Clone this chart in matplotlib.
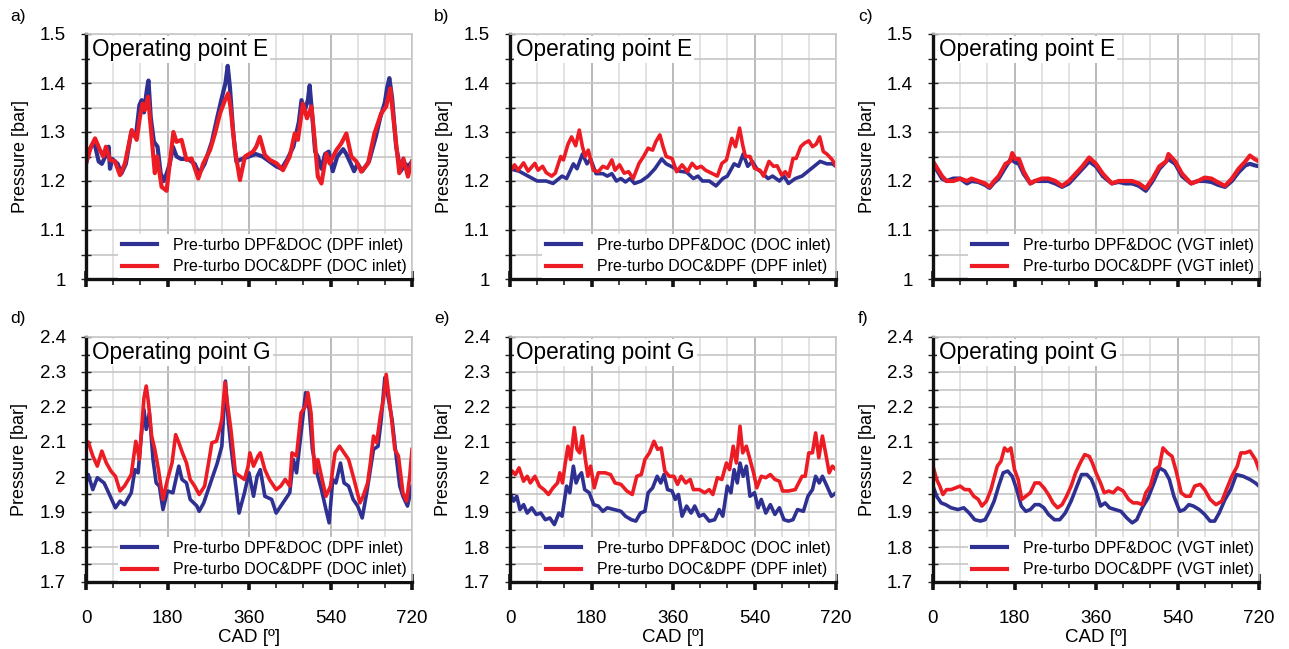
import matplotlib
matplotlib.use("Agg")
import matplotlib.pyplot as plt
from matplotlib.ticker import MultipleLocator, FuncFormatter

plt.rcParams['font.family'] = ['Liberation Sans', 'DejaVu Sans']

BLUE = '#2e3192'
RED = '#ed1c24'

# ---- operating point E, pre-turbo DPF&DOC vs DOC&DPF at the DPF/DOC inlets ----
a_blue_x = [0, 8, 18, 28, 35, 45, 50, 53, 58, 70, 78, 88, 100, 110, 118, 123, 128, 135, 138, 143,
            150, 158, 165, 172, 178, 185, 192, 200, 210, 225, 240, 250, 262, 278, 290, 300, 308, 313,
            318, 325, 332, 345, 360, 375, 390, 405, 420, 432, 445, 458, 470, 476, 482, 490, 494, 500,
            506, 512, 520, 528, 536, 545, 555, 568, 575, 585, 592, 600, 610, 625, 640, 650, 660, 665,
            670, 676, 685, 695, 705, 712, 720]
a_blue_y = [1.235, 1.265, 1.28, 1.24, 1.235, 1.255, 1.27, 1.225, 1.245, 1.235, 1.215, 1.235, 1.3, 1.29,
            1.355, 1.365, 1.34, 1.39, 1.405, 1.33, 1.28, 1.27, 1.215, 1.2, 1.215, 1.235, 1.27, 1.25,
            1.245, 1.245, 1.235, 1.215, 1.235, 1.28, 1.33, 1.37, 1.4, 1.435, 1.39, 1.3, 1.24, 1.245,
            1.25, 1.255, 1.25, 1.24, 1.23, 1.225, 1.245, 1.27, 1.32, 1.365, 1.34, 1.365, 1.395, 1.33,
            1.26, 1.25, 1.225, 1.255, 1.26, 1.22, 1.25, 1.265, 1.255, 1.235, 1.22, 1.235, 1.22, 1.24,
            1.29, 1.33, 1.36, 1.39, 1.41, 1.37, 1.27, 1.22, 1.235, 1.23, 1.24]
a_red_x = [0, 11, 20, 31, 38, 44, 53, 64, 75, 86, 101, 112, 119, 125, 130, 137, 143, 152, 157, 167,
           178, 193, 200, 211, 222, 233, 248, 259, 274, 285, 296, 307, 314, 319, 329, 340, 351, 369,
           376, 384, 395, 406, 421, 435, 450, 461, 468, 479, 488, 498, 505, 512, 520, 531, 538, 553,
           564, 575, 586, 597, 608, 623, 637, 652, 663, 672, 681, 692, 701, 711, 720]
a_red_y = [1.236, 1.27, 1.287, 1.263, 1.25, 1.27, 1.243, 1.24, 1.212, 1.236, 1.304, 1.284, 1.33, 1.358,
           1.345, 1.372, 1.31, 1.216, 1.25, 1.188, 1.18, 1.3, 1.28, 1.284, 1.243, 1.246, 1.205, 1.236,
           1.263, 1.297, 1.338, 1.365, 1.379, 1.352, 1.263, 1.202, 1.25, 1.26, 1.27, 1.29, 1.253, 1.243,
           1.236, 1.222, 1.25, 1.297, 1.284, 1.358, 1.328, 1.352, 1.284, 1.209, 1.195, 1.256, 1.236,
           1.263, 1.277, 1.297, 1.25, 1.24, 1.219, 1.236, 1.297, 1.338, 1.352, 1.389, 1.31, 1.216,
           1.246, 1.209, 1.24]

b_blue_x = [0, 20, 40, 60, 80, 95, 115, 125, 140, 148, 160, 170, 178, 190, 205, 215, 225, 235, 245,
            255, 265, 275, 290, 305, 320, 335, 345, 360, 375, 390, 405, 415, 425, 440, 455, 470, 480,
            495, 505, 515, 525, 535, 545, 555, 570, 580, 595, 605, 615, 630, 645, 665, 685, 700, 712, 720]
b_blue_y = [1.225, 1.22, 1.21, 1.2, 1.2, 1.195, 1.21, 1.205, 1.235, 1.225, 1.255, 1.235, 1.245, 1.215,
            1.215, 1.21, 1.215, 1.2, 1.205, 1.198, 1.205, 1.195, 1.2, 1.21, 1.225, 1.245, 1.235, 1.228,
            1.22, 1.218, 1.205, 1.21, 1.2, 1.2, 1.19, 1.205, 1.21, 1.235, 1.23, 1.255, 1.23, 1.24,
            1.225, 1.218, 1.205, 1.21, 1.2, 1.21, 1.195, 1.205, 1.21, 1.225, 1.24, 1.235, 1.235, 1.23]
b_red_x = [0, 10, 18, 30, 40, 55, 62, 72, 80, 92, 100, 112, 118, 128, 136, 145, 153, 160, 166, 173,
           184, 195, 205, 215, 225, 232, 242, 252, 262, 272, 285, 295, 305, 315, 322, 331, 338, 345,
           358, 368, 380, 392, 402, 412, 422, 432, 445, 458, 468, 478, 490, 498, 507, 514, 520, 530,
           540, 552, 560, 572, 582, 590, 600, 608, 616, 625, 632, 642, 650, 660, 668, 676, 684, 692,
           700, 712, 720]
b_red_y = [1.219, 1.233, 1.222, 1.237, 1.22, 1.236, 1.222, 1.23, 1.217, 1.21, 1.216, 1.25, 1.243,
           1.275, 1.29, 1.272, 1.304, 1.27, 1.25, 1.263, 1.222, 1.219, 1.23, 1.226, 1.243, 1.222,
           1.233, 1.216, 1.219, 1.205, 1.236, 1.25, 1.267, 1.263, 1.28, 1.294, 1.27, 1.25, 1.246,
           1.219, 1.233, 1.219, 1.236, 1.226, 1.23, 1.222, 1.216, 1.21, 1.236, 1.243, 1.287, 1.27,
           1.308, 1.273, 1.25, 1.25, 1.226, 1.222, 1.21, 1.24, 1.23, 1.231, 1.212, 1.219, 1.209, 1.246,
           1.246, 1.27, 1.277, 1.282, 1.27, 1.275, 1.29, 1.26, 1.255, 1.243, 1.23]

c_blue_x = [0, 10, 20, 30, 45, 60, 75, 85, 100, 115, 125, 135, 145, 160, 172, 182, 190, 200, 215,
            225, 240, 255, 270, 285, 300, 315, 330, 345, 360, 375, 395, 410, 425, 440, 455, 470, 485,
            500, 520, 535, 550, 570, 585, 600, 615, 630, 645, 660, 675, 690, 700, 710, 720]
c_blue_y = [1.235, 1.22, 1.205, 1.2, 1.205, 1.205, 1.195, 1.2, 1.198, 1.192, 1.186, 1.197, 1.205,
            1.228, 1.245, 1.238, 1.235, 1.215, 1.195, 1.2, 1.2, 1.2, 1.195, 1.188, 1.195, 1.21, 1.225,
            1.24, 1.23, 1.21, 1.195, 1.198, 1.195, 1.195, 1.19, 1.18, 1.2, 1.225, 1.245, 1.235, 1.21,
            1.195, 1.2, 1.2, 1.198, 1.192, 1.188, 1.2, 1.218, 1.232, 1.235, 1.232, 1.23]
c_red_x = [0, 10, 20, 30, 45, 60, 75, 85, 100, 115, 125, 135, 145, 160, 170, 175, 182, 190, 200, 215,
           225, 240, 255, 270, 285, 300, 315, 330, 345, 360, 375, 395, 410, 425, 440, 455, 470, 485,
           500, 515, 520, 535, 550, 570, 585, 600, 615, 630, 645, 660, 675, 690, 700, 710, 720]
c_red_y = [1.24, 1.225, 1.21, 1.2, 1.2, 1.205, 1.2, 1.205, 1.2, 1.195, 1.188, 1.2, 1.21, 1.235, 1.24,
           1.257, 1.245, 1.245, 1.22, 1.195, 1.2, 1.205, 1.205, 1.2, 1.19, 1.2, 1.215, 1.23, 1.248,
           1.235, 1.215, 1.195, 1.2, 1.2, 1.2, 1.195, 1.185, 1.205, 1.23, 1.24, 1.255, 1.24, 1.215,
           1.195, 1.2, 1.207, 1.205, 1.197, 1.19, 1.205, 1.225, 1.24, 1.252, 1.245, 1.24]

# ---- operating point G ----
d_blue_x = [0, 5, 15, 25, 40, 50, 65, 75, 85, 100, 108, 115, 122, 128, 133, 140, 148, 155, 162, 170,
            180, 192, 205, 212, 222, 230, 245, 250, 260, 275, 290, 300, 308, 314, 320, 330, 338, 350,
            360, 370, 378, 385, 395, 410, 420, 435, 450, 458, 465, 475, 485, 493, 500, 510, 520, 530,
            537, 545, 552, 562, 570, 580, 590, 600, 610, 620, 635, 645, 652, 660, 668, 676, 685, 693,
            700, 710, 720]
d_blue_y = [1.983, 2.007, 1.964, 1.998, 1.983, 1.955, 1.912, 1.931, 1.921, 1.955, 2.021, 2.012, 2.117,
            2.193, 2.136, 2.183, 2.05, 1.983, 1.974, 1.907, 1.96, 1.955, 2.031, 1.993, 1.983, 1.936,
            1.917, 1.902, 1.926, 1.983, 2.04, 2.088, 2.274, 2.164, 2.088, 1.983, 1.897, 1.955, 2.012,
            1.945, 2.002, 2.021, 1.945, 1.936, 1.897, 1.926, 1.955, 2.05, 2.012, 2.126, 2.241, 2.193,
            2.079, 2.012, 1.964, 1.907, 1.869, 1.993, 1.983, 2.04, 1.983, 1.974, 1.936, 1.917, 1.883,
            1.955, 2.079, 2.088, 2.164, 2.284, 2.222, 2.164, 2.06, 1.974, 1.945, 1.917, 1.974]
d_red_x = [0, 5, 15, 25, 35, 45, 55, 65, 75, 85, 100, 110, 118, 128, 133, 138, 145, 152, 160, 170,
           180, 190, 198, 205, 213, 222, 230, 240, 250, 262, 272, 278, 288, 295, 300, 307, 313, 320,
           330, 340, 350, 358, 362, 370, 380, 385, 395, 405, 420, 430, 440, 450, 455, 465, 475, 485,
           490, 497, 505, 512, 520, 530, 540, 550, 560, 570, 580, 592, 605, 612, 622, 628, 635, 642,
           650, 657, 663, 668, 675, 682, 690, 700, 708, 715, 720]
d_red_y = [2.093, 2.1, 2.06, 2.031, 2.074, 2.04, 2.017, 2.002, 1.96, 1.974, 2.007, 2.102, 2.05, 2.226,
           2.26, 2.212, 2.117, 2.079, 2.021, 1.936, 1.993, 2.04, 2.121, 2.098, 2.069, 2.04, 1.993,
           1.974, 1.95, 1.974, 2.05, 2.098, 2.102, 2.136, 2.164, 2.27, 2.203, 2.136, 2.012, 2.002,
           1.993, 2.031, 2.069, 2.031, 2.06, 2.069, 2.021, 1.993, 1.964, 1.974, 1.993, 1.974, 2.069,
           2.06, 2.183, 2.203, 2.241, 2.183, 2.012, 2.05, 2.002, 1.945, 1.974, 2.069, 2.088, 2.069,
           2.05, 1.993, 1.926, 1.945, 1.983, 2.04, 2.117, 2.098, 2.174, 2.222, 2.293, 2.241, 2.164,
           2.079, 2.06, 1.955, 1.931, 2.002, 2.079]

e_blue_x = [0, 8, 15, 22, 30, 38, 48, 58, 68, 78, 88, 98, 108, 115, 125, 132, 140, 146, 152, 158,
            165, 175, 185, 195, 205, 215, 230, 245, 255, 268, 278, 288, 298, 305, 315, 325, 333, 340,
            348, 358, 365, 372, 380, 390, 400, 408, 418, 428, 440, 452, 462, 470, 480, 488, 495, 502,
            508, 515, 522, 530, 540, 548, 555, 565, 575, 585, 595, 605, 615, 625, 635, 648, 658, 668,
            675, 683, 690, 700, 710, 720]
e_blue_y = [1.955, 1.931, 1.945, 1.907, 1.921, 1.897, 1.912, 1.893, 1.897, 1.878, 1.883, 1.864, 1.897,
            1.888, 1.974, 1.955, 2.031, 1.983, 2.002, 2.012, 1.964, 1.955, 1.921, 1.917, 1.902, 1.912,
            1.907, 1.902, 1.888, 1.878, 1.874, 1.897, 1.902, 1.955, 1.969, 2.002, 1.983, 2.007, 1.964,
            1.96, 1.936, 1.95, 1.888, 1.917, 1.897, 1.917, 1.888, 1.893, 1.874, 1.878, 1.907, 1.888,
            1.974, 1.955, 2.021, 1.983, 2.04, 2.002, 2.031, 1.945, 1.955, 1.912, 1.936, 1.897, 1.921,
            1.893, 1.912, 1.878, 1.874, 1.878, 1.907, 1.902, 1.945, 1.964, 2.002, 1.983, 2.002, 1.974,
            1.945, 1.955]
e_red_x = [0, 5, 12, 20, 30, 38, 45, 55, 65, 75, 85, 95, 105, 110, 116, 122, 128, 134, 142, 148, 154,
           160, 166, 172, 178, 186, 195, 210, 222, 232, 245, 258, 270, 280, 290, 298, 308, 318, 326,
           334, 342, 352, 362, 370, 378, 388, 398, 405, 418, 430, 440, 448, 458, 468, 478, 485, 493,
           500, 508, 514, 522, 530, 538, 545, 555, 565, 575, 585, 595, 602, 615, 630, 645, 652, 660,
           668, 675, 682, 690, 697, 705, 712, 720]
e_red_y = [2.002, 2.017, 2.007, 2.026, 1.988, 2.002, 1.983, 2.002, 1.974, 1.964, 1.95, 1.969, 1.983,
           2.012, 1.983, 2.04, 2.088, 2.05, 2.141, 2.079, 2.069, 2.117, 2.055, 2.002, 2.031, 1.969,
           2.012, 2.012, 2.007, 1.983, 1.979, 1.96, 1.95, 2.002, 2.007, 2.05, 2.069, 2.102, 2.079,
           2.083, 2.017, 2.002, 2.002, 1.979, 2.002, 1.983, 1.993, 1.964, 1.964, 1.955, 1.964, 1.95,
           1.998, 1.993, 2.04, 2.021, 2.088, 2.04, 2.145, 2.069, 2.088, 2.05, 2.012, 1.969, 2.002,
           1.998, 2.007, 1.993, 1.988, 1.96, 1.96, 1.964, 2.002, 2.002, 2.069, 2.069, 2.126, 2.055,
           2.117, 2.069, 2.012, 2.031, 2.021]

f_blue_x = [0, 8, 18, 28, 40, 55, 68, 80, 92, 105, 115, 125, 135, 145, 155, 165, 175, 185, 195, 205,
            215, 225, 235, 245, 255, 268, 280, 292, 305, 318, 328, 340, 350, 360, 370, 380, 390, 402,
            415, 428, 440, 450, 462, 475, 488, 500, 512, 522, 532, 545, 555, 565, 575, 588, 600, 612,
            622, 632, 645, 658, 670, 685, 700, 712, 720]
f_blue_y = [1.974, 1.945, 1.926, 1.921, 1.912, 1.907, 1.912, 1.897, 1.878, 1.874, 1.878, 1.902, 1.931,
            1.974, 2.012, 2.017, 2.002, 1.964, 1.917, 1.902, 1.907, 1.921, 1.921, 1.912, 1.893, 1.878,
            1.878, 1.897, 1.931, 1.974, 2.007, 2.007, 1.993, 1.96, 1.917, 1.926, 1.912, 1.907, 1.902,
            1.883, 1.869, 1.878, 1.912, 1.94, 1.983, 2.026, 2.017, 1.993, 1.945, 1.902, 1.907, 1.921,
            1.917, 1.907, 1.893, 1.874, 1.874, 1.897, 1.936, 1.965, 2.007, 2.002, 1.993, 1.983, 1.974]
f_red_x = [0, 8, 15, 22, 30, 40, 50, 60, 70, 80, 90, 100, 108, 118, 128, 135, 142, 150, 158, 165, 172,
           180, 188, 196, 205, 215, 225, 235, 245, 255, 265, 275, 285, 295, 305, 315, 325, 335, 345,
           352, 360, 370, 378, 388, 398, 408, 420, 432, 442, 452, 462, 470, 480, 490, 500, 508, 518,
           528, 538, 548, 558, 568, 578, 590, 600, 612, 625, 638, 648, 660, 672, 680, 690, 700, 712, 720]
f_red_y = [2.031, 1.993, 1.974, 1.95, 1.964, 1.964, 1.969, 1.974, 1.964, 1.964, 1.945, 1.936, 1.917,
           1.931, 1.964, 1.998, 2.031, 2.045, 2.083, 2.074, 2.083, 2.021, 1.993, 1.936, 1.945, 1.955,
           1.983, 1.983, 1.969, 1.95, 1.926, 1.912, 1.921, 1.945, 1.974, 2.012, 2.04, 2.064, 2.059,
           2.04, 2.012, 1.983, 1.955, 1.96, 1.955, 1.969, 1.96, 1.936, 1.926, 1.926, 1.921, 1.955,
           1.974, 2.021, 2.031, 2.083, 2.069, 2.059, 2.012, 1.955, 1.945, 1.945, 1.974, 1.979, 1.964,
           1.936, 1.921, 1.931, 1.964, 2.002, 2.031, 2.069, 2.069, 2.074, 2.05, 2.021]

panels = [
    ('a)', 'Operating point E', (1.0, 1.5), a_blue_x, a_blue_y, a_red_x, a_red_y,
     'Pre-turbo DPF&DOC (DPF inlet)', 'Pre-turbo DOC&DPF (DOC inlet)'),
    ('b)', 'Operating point E', (1.0, 1.5), b_blue_x, b_blue_y, b_red_x, b_red_y,
     'Pre-turbo DPF&DOC (DOC inlet)', 'Pre-turbo DOC&DPF (DPF inlet)'),
    ('c)', 'Operating point E', (1.0, 1.5), c_blue_x, c_blue_y, c_red_x, c_red_y,
     'Pre-turbo DPF&DOC (VGT inlet)', 'Pre-turbo DOC&DPF (VGT inlet)'),
    ('d)', 'Operating point G', (1.7, 2.4), d_blue_x, d_blue_y, d_red_x, d_red_y,
     'Pre-turbo DPF&DOC (DPF inlet)', 'Pre-turbo DOC&DPF (DOC inlet)'),
    ('e)', 'Operating point G', (1.7, 2.4), e_blue_x, e_blue_y, e_red_x, e_red_y,
     'Pre-turbo DPF&DOC (DOC inlet)', 'Pre-turbo DOC&DPF (DPF inlet)'),
    ('f)', 'Operating point G', (1.7, 2.4), f_blue_x, f_blue_y, f_red_x, f_red_y,
     'Pre-turbo DPF&DOC (VGT inlet)', 'Pre-turbo DOC&DPF (VGT inlet)'),
]

W, H = 1289, 649
fig = plt.figure(figsize=(W / 100, H / 100), dpi=100)

lefts = [86, 510, 933]
tops = [34, 337]
pw, ph = 326, 245
tag_x = [10, 434, 858]

for i, (tag, title, ylim, bx, by, rx, ry, lb, lr) in enumerate(panels):
    row, col = divmod(i, 3)
    l, t = lefts[col], tops[row]
    ax = fig.add_axes([l / W, 1 - (t + ph) / H, pw / W, ph / H])

    ax.set_xlim(0, 720)
    ax.set_ylim(*ylim)
    ax.xaxis.set_major_locator(MultipleLocator(180))
    ax.xaxis.set_minor_locator(MultipleLocator(60))
    ax.yaxis.set_major_locator(MultipleLocator(0.1))
    ax.yaxis.set_minor_locator(MultipleLocator(0.05))
    ax.yaxis.set_major_formatter(FuncFormatter(lambda v, p: f'{round(v, 2):g}'))

    # grid: all horizontal lines equal, verticals darker on the 180 deg marks
    ax.grid(True, which='major', axis='x', color='#b4b4b4', lw=1.3)
    ax.grid(True, which='minor', axis='x', color='#dedede', lw=1.2)
    ax.grid(True, which='both', axis='y', color='#c6c6c6', lw=1.2)
    ax.set_axisbelow(True)

    for s in ('top', 'right'):
        ax.spines[s].set_color('#c8c8c8')
        ax.spines[s].set_linewidth(1.2)
    for s in ('left', 'bottom'):
        ax.spines[s].set_color('#111111')
        ax.spines[s].set_linewidth(2.4)

    ax.tick_params(axis='y', which='both', direction='inout', length=7, width=1.0,
                   color='#222222', labelsize=13.5, pad=11)
    ax.tick_params(axis='x', which='major', direction='inout', length=11, width=2.6,
                   color='#111111', labelsize=13.5, pad=15)
    ax.tick_params(axis='x', which='minor', direction='out', length=4, width=1.2,
                   color='#222222')
    if row == 0:
        ax.tick_params(axis='x', labelbottom=False)
    else:
        ax.set_xlabel('CAD [º]', fontsize=13.5, labelpad=1)
    ax.set_ylabel('Pressure [bar]', fontsize=13, labelpad=8)

    lw = 3.0 if row == 0 and col != 1 else 2.6
    ax.plot(bx, by, color=BLUE, lw=lw, label=lb, solid_joinstyle='round')
    ax.plot(rx, ry, color=RED, lw=lw, label=lr, solid_joinstyle='round')

    ax.text(0.018, 0.985, title, transform=ax.transAxes, ha='left', va='top', fontsize=16.3,
            bbox=dict(facecolor='white', edgecolor='none', pad=1.5), zorder=5)

    leg = ax.legend(loc='lower right', fontsize=11.5, frameon=True, fancybox=False,
                    facecolor='white', edgecolor='none', framealpha=1,
                    handlelength=2.2, handletextpad=1.0, labelspacing=0.4,
                    borderpad=0.25, borderaxespad=0.05)
    for h in leg.get_lines():
        h.set_linewidth(3.0)

    fig.text(tag_x[col] / W, 1 - (t - 18) / H, tag, fontsize=12.5, ha='left', va='center')

fig.savefig('out.png', dpi=100)
